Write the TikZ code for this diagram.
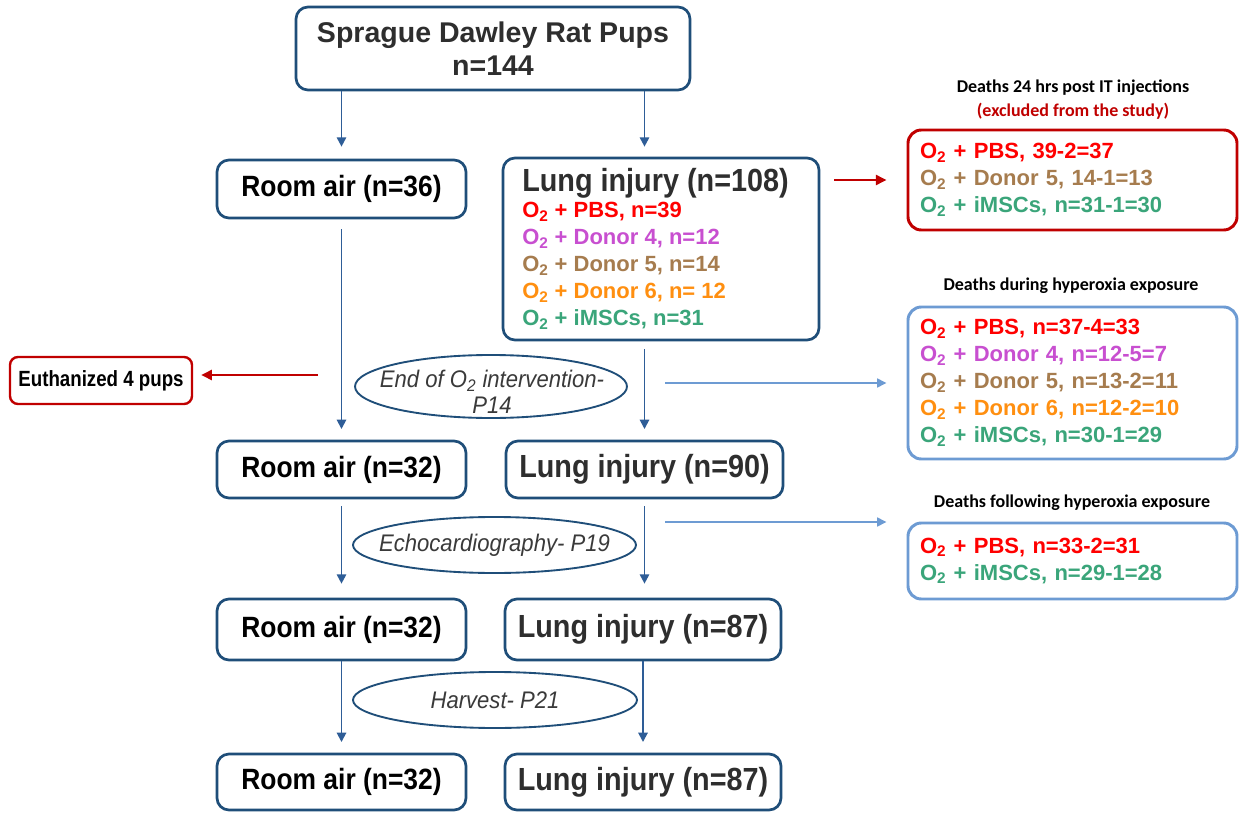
\documentclass[tikz,border=0pt]{standalone}
\usepackage{fontspec}
\setmainfont{Liberation Sans}
\newfontfamily\nfont[FakeStretch=0.9]{Liberation Sans}
\newfontfamily\xfont[FakeStretch=0.85]{Liberation Sans}
\newfontfamily\efont[FakeStretch=0.92]{Liberation Sans}
\newfontfamily\cfont{Carlito}
\usetikzlibrary{shapes.geometric,arrows.meta,calc}
\definecolor{boxblue}{HTML}{1F4E79}
\definecolor{arrblue}{HTML}{2E5D97}
\definecolor{lblue}{HTML}{6D9BD3}
\definecolor{dred}{HTML}{C00000}
\definecolor{cred}{HTML}{FF0000}
\definecolor{cmag}{HTML}{C84FD0}
\definecolor{cbrown}{HTML}{A67C4E}
\definecolor{corange}{HTML}{FF8F10}
\definecolor{cgreen}{HTML}{3AA57A}
\definecolor{tgray}{HTML}{2E2E2E}
\definecolor{egray}{HTML}{3A3A3A}
\newcommand{\Ot}{O\textsubscript{2}}
\tikzset{
  box/.style={draw=boxblue, line width=2pt, rounded corners=9pt, fill=white, inner sep=0pt},
  rbox/.style={draw=dred, line width=2.2pt, rounded corners=10pt, fill=white, inner xsep=9pt, inner ysep=0pt, text width=228.75pt, align=left, font=\bfseries\fontsize{16.5}{20.25}\selectfont},
  bbox/.style={rbox, draw=lblue},
  ebox/.style={draw=dred, line width=1.8pt, rounded corners=6pt, inner sep=0pt, minimum width=136.5pt, minimum height=35.25pt, font=\xfont\bfseries\fontsize{16.5}{18}\selectfont},
  ell/.style={draw=boxblue, line width=1.4pt, ellipse, inner sep=0pt},
  elltext/.style={font=\efont\itshape\fontsize{18}{19.5}\selectfont, text=egray, align=center, inner sep=0pt},
  topfont/.style={font=\bfseries\fontsize{21.4}{24.75}\selectfont, text=tgray, align=center},
  rafont/.style={font=\nfont\bfseries\fontsize{22}{26}\selectfont, text=black},
  lifont/.style={font=\nfont\bfseries\fontsize{24}{28}\selectfont, text=tgray},
  listfont/.style={font=\bfseries\fontsize{16.5}{20.25}\selectfont, align=left, inner sep=0pt},
  headfont/.style={font=\cfont\bfseries\fontsize{13.5}{16}\selectfont, inner sep=0pt},
  arr/.style={draw=arrblue, line width=1.4pt, -{Triangle[length=7pt,width=7pt]}},
  redarr/.style={draw=dred, line width=1.7pt, -{Triangle[length=8pt,width=7.5pt]}},
  bluearr/.style={draw=lblue, line width=2.1pt, -{Triangle[length=7pt,width=6.5pt]}},
}
\begin{document}
\begin{tikzpicture}[x=0.75pt,y=-0.75pt]
\useasboundingbox (0,0) rectangle (1239,813);
\fill[white] (0,0) rectangle (1239,813);

% main column boxes
\node[box, topfont, minimum width=295.5pt, minimum height=62.25pt] (top) at (493,48.5) {Sprague Dawley Rat Pups\\n=144};
\node[box, rafont, minimum width=186.75pt, minimum height=43.5pt] (ra1) at (341.5,189) {Room air (n=36)};
\node[box, minimum width=237pt, minimum height=136.5pt] (li108) at (661,249) {};
\node[lifont, anchor=west, inner sep=0pt] (t108) at (522,183) {Lung injury (n=108)};
\node[listfont, anchor=north west] (l108) at (522,202) {%
\textcolor{cred}{\Ot{} + PBS, n=39}\\
\textcolor{cmag}{\Ot{} + Donor 4, n=12}\\
\textcolor{cbrown}{\Ot{} + Donor 5, n=14}\\
\textcolor{corange}{\Ot{} + Donor 6, n= 12}\\
\textcolor{cgreen}{\Ot{} + iMSCs, n=31}};

\node[box, rafont, minimum width=186.75pt, minimum height=42.75pt] (ra2) at (341.5,469.5) {Room air (n=32)};
\node[box, lifont, minimum width=207.75pt, minimum height=42.75pt] (li90) at (644.5,469.5) {Lung injury (n=90)};
\node[box, rafont, minimum width=186.75pt, minimum height=45.75pt] (ra3) at (341.5,629.5) {Room air (n=32)};
\node[box, lifont, minimum width=207pt, minimum height=45.75pt] (li87a) at (643,629.5) {Lung injury (n=87)};
\node[box, rafont, minimum width=186.75pt, minimum height=42pt] (ra4) at (341.5,782) {Room air (n=32)};
\node[box, lifont, minimum width=207pt, minimum height=42pt] (li87b) at (643,782) {Lung injury (n=87)};

% ellipses
\node[ell, minimum width=204pt, minimum height=47.25pt] (e1) at (491,386.5) {};
\node[elltext] (e1t) at (492,392) {End of \Ot{} intervention-\\P14};
\node[ell, minimum width=212.25pt, minimum height=42pt] (e2) at (494.5,545) {};
\node[elltext] (e2t) at (e2.center) {Echocardiography- P19};
\node[ell, minimum width=213pt, minimum height=42pt] (e3) at (495,700) {};
\node[elltext] (e3t) at (e3.center) {Harvest- P21};

% euthanized
\node[ebox] (euth) at (101,380.5) {Euthanized 4 pups};

% right side
\node[headfont] (h1) at (1073,88) {Deaths 24 hrs post IT injections};
\node[headfont, text=dred] (h1b) at (1073,111) {(excluded from the study)};
\node[rbox, minimum height=75pt] (rb) at (1072.5,180) {%
\textcolor{cred}{\Ot{} + PBS, 39-2=37}\\
\textcolor{cbrown}{\Ot{} + Donor 5, 14-1=13}\\
\textcolor{cgreen}{\Ot{} + iMSCs, n=31-1=30}};

\node[headfont] (h2) at (1071,286) {Deaths during hyperoxia exposure};
\node[bbox, minimum height=114pt] (bb1) at (1072.5,383) {%
\textcolor{cred}{\Ot{} + PBS, n=37-4=33}\\
\textcolor{cmag}{\Ot{} + Donor 4, n=12-5=7}\\
\textcolor{cbrown}{\Ot{} + Donor 5, n=13-2=11}\\
\textcolor{corange}{\Ot{} + Donor 6, n=12-2=10}\\
\textcolor{cgreen}{\Ot{} + iMSCs, n=30-1=29}};

\node[headfont] (h3) at (1072,503) {Deaths following hyperoxia exposure};
\node[bbox, minimum height=57pt] (bb2) at (1072.5,561) {%
\textcolor{cred}{\Ot{} + PBS, n=33-2=31}\\
\textcolor{cgreen}{\Ot{} + iMSCs, n=29-1=28}};

% connectors
\draw[arr, shorten >=9pt] (top.south -| ra1.north) -- (ra1.north);
\draw[arr, shorten >=7.5pt] (top.south -| li90.north) -- (li108.north -| li90.north);
\draw[arr, shorten <=7.5pt, shorten >=8pt] (ra1.south) -- (ra2.north);
\draw[arr, shorten <=6pt, shorten >=8pt] (li108.south -| li90.north) -- (li90.north);
\draw[arr, shorten <=5pt, shorten >=10.5pt] (ra2.south) -- (ra3.north);
\draw[arr, shorten <=5pt, shorten >=10.5pt] (li90.south) -- (li90.south |- li87a.north);
\draw[arr, shorten >=8pt] (ra3.south) -- (ra4.north);
\draw[arr, shorten >=8pt] (li87a.south) -- (li87b.north);

\draw[redarr, shorten <=10.5pt, shorten >=15pt] (li108.east |- rb.west) -- (rb.west);
\coordinate (eu0) at (318,375);
\draw[redarr, shorten >=6pt] (eu0) -- (eu0 -| euth.east);
\coordinate (bl1) at (665,383);
\draw[bluearr, shorten >=15pt] (bl1) -- (bl1 -| bb1.west);
\coordinate (bl2) at (665,522);
\draw[bluearr, shorten >=15pt] (bl2) -- (bl2 -| bb2.west);
\end{tikzpicture}
\end{document}
